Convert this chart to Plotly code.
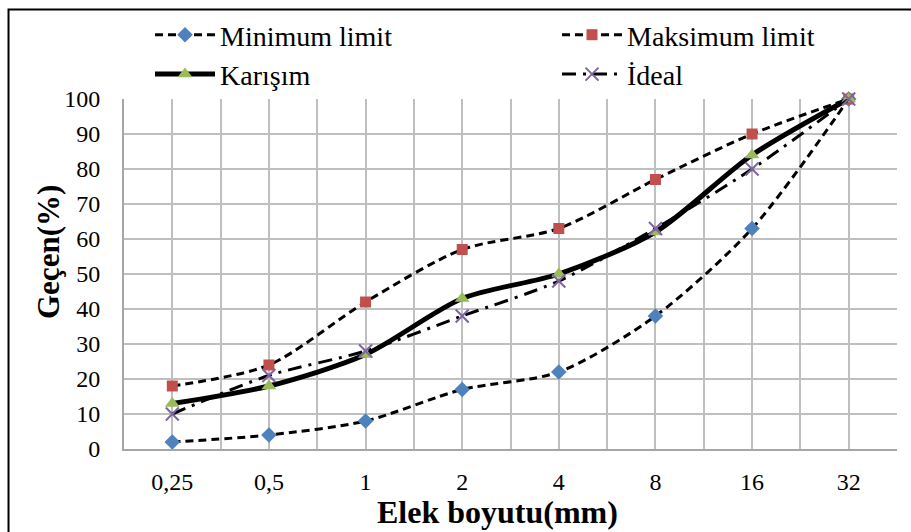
import plotly.graph_objects as go

categories = ["0,25", "0,5", "1", "2", "4", "8", "16", "32"]
minimum_limit = [2, 4, 8, 17, 22, 38, 63, 100]
maksimum_limit = [18, 24, 42, 57, 63, 77, 90, 100]
karisim = [13, 18, 27, 43, 50, 62, 84, 100]
ideal = [10, 21, 28, 38, 48, 63, 80, 100]

xpos = list(range(len(categories)))
FONT = "Liberation Serif, Times New Roman, serif"

fig = go.Figure()
fig.add_trace(go.Scatter(
    x=xpos, y=minimum_limit, name="Minimum limit", mode="lines+markers", legend="legend",
    line=dict(color="black", width=3, dash="8px,5px", shape="spline", smoothing=0.8),
    marker=dict(symbol="diamond", size=12, color="#4f81bd"), cliponaxis=False))
fig.add_trace(go.Scatter(
    x=xpos, y=maksimum_limit, name="Maksimum limit", mode="lines+markers", legend="legend2",
    line=dict(color="black", width=3, dash="8px,5px", shape="spline", smoothing=0.8),
    marker=dict(symbol="square", size=11, color="#c0504d"), cliponaxis=False))
fig.add_trace(go.Scatter(
    x=xpos, y=karisim, name="Karışım", mode="lines+markers", legend="legend",
    line=dict(color="black", width=5, shape="spline", smoothing=0.8),
    marker=dict(symbol="triangle-up", size=13, color="#9bbb59"), cliponaxis=False))
fig.add_trace(go.Scatter(
    x=xpos, y=ideal, name="İdeal", mode="lines+markers", legend="legend2",
    line=dict(color="black", width=3, dash="14px,7px,3px,7px", shape="spline", smoothing=0.8),
    marker=dict(symbol="x-thin", size=13, color="#8064a2", line=dict(color="#8064a2", width=2)),
    cliponaxis=False))

legend_common = dict(
    orientation="v", xref="container", yref="container",
    xanchor="left", yanchor="top", itemwidth=60,
    font=dict(family=FONT, size=28, color="black"),
    bgcolor="rgba(0,0,0,0)", tracegroupgap=0,
)

fig.update_layout(
    width=911, height=532,
    margin=dict(l=124, r=14, t=99, b=83, autoexpand=False),
    paper_bgcolor="white", plot_bgcolor="white",
    font=dict(family=FONT, size=24, color="black"),
    showlegend=True,
    legend=dict(x=150 / 911, y=1 - 10 / 532, **legend_common),
    legend2=dict(x=557 / 911, y=1 - 10 / 532, **legend_common),
    xaxis=dict(
        range=[-0.5, 7.5], tickmode="array", tickvals=xpos, ticktext=categories,
        showgrid=True, gridcolor="#bfbfbf", gridwidth=2,
        minor=dict(tickmode="array", tickvals=[v + 0.5 for v in [-1] + xpos], showgrid=True,
                   gridcolor="#bfbfbf", gridwidth=2),
        showline=True, linecolor="#a6a6a6", linewidth=2, mirror=False,
        ticks="outside", ticklen=10, tickcolor="rgba(0,0,0,0)",
        tickfont=dict(family=FONT, size=24),
        zeroline=False,
    ),
    yaxis=dict(
        range=[0, 100], dtick=10, showgrid=True, gridcolor="#bfbfbf", gridwidth=2,
        showline=True, linecolor="#a6a6a6", linewidth=2,
        ticks="outside", ticklen=17, tickcolor="rgba(0,0,0,0)",
        tickfont=dict(family=FONT, size=24),
        zeroline=False,
    ),
    annotations=[
        dict(text="<b>Elek boyutu(mm)</b>", xref="paper", yref="paper",
             x=(497 - 124) / 773, y=(449 - 512) / 350, xanchor="center", yanchor="middle",
             showarrow=False, font=dict(family=FONT, size=32, color="black")),
        dict(text="<b>Geçen(%)</b>", xref="paper", yref="paper", textangle=-90,
             x=(48 - 124) / 773, y=(449 - 252) / 350, xanchor="center", yanchor="middle",
             showarrow=False, font=dict(family=FONT, size=31, color="black")),
    ],
    shapes=[dict(type="rect", xref="paper", yref="paper",
                 x0=-0.1494, x1=1.03, y0=-0.3, y1=1.2557,
                 line=dict(color="black", width=2), fillcolor="rgba(0,0,0,0)", layer="above")],
)

fig.write_html("out.html")
